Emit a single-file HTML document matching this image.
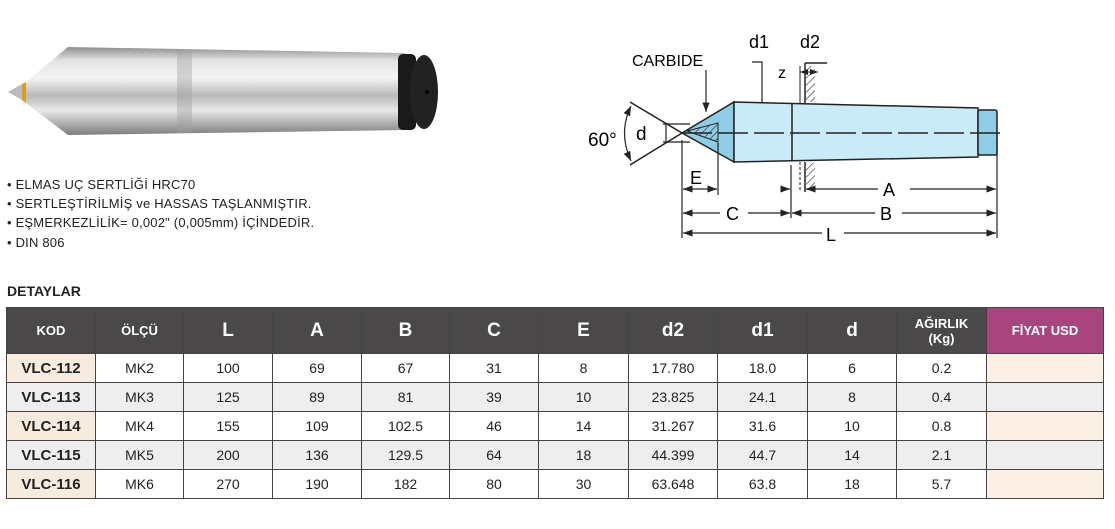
<!DOCTYPE html>
<html><head><meta charset="utf-8"><style>
body{margin:0;background:#fff;width:1115px;height:529px;position:relative;overflow:hidden;font-family:"Liberation Sans Narrow","Liberation Sans",sans-serif;}
.bul{position:absolute;left:7px;font-size:13px;color:#222;letter-spacing:0.2px}
table{position:absolute;left:6px;top:307px;border-collapse:collapse;table-layout:fixed;font-family:"Liberation Sans Narrow","Liberation Sans",sans-serif}
td,th{border:1px solid #444;text-align:center;padding:0;font-size:14px;color:#222}
th{background:#4a4849;color:#fff;height:45px;font-weight:bold;font-size:19px}
th.s{font-size:13px}
td{height:28px}
tr.g td{background:#eee}
td.k{background:#f6ebdc;font-weight:bold;font-size:15px}
td.f{background:#fbf0e3}
th.p{background:#a8457f;font-size:13px}
</style></head><body>
<svg width="460" height="160" style="position:absolute;left:0;top:20px" viewBox="0 0 460 160">
<defs>
<linearGradient id="m" x1="0" y1="0" x2="0" y2="1">
<stop offset="0" stop-color="#8e8e8e"/><stop offset="0.15" stop-color="#e2e2e2"/><stop offset="0.35" stop-color="#f4f4f4"/><stop offset="0.55" stop-color="#b8b8b8"/><stop offset="0.72" stop-color="#e8e8e8"/><stop offset="1" stop-color="#7c7c7c"/></linearGradient>
</defs>
<polygon points="8,72 22,64 22,80" fill="#bbb"/>
<polygon points="22,64 26,62 26,83 22,80" fill="#d4a020"/>
<polygon points="26,62 68,27 405,33 405,110 68,115 26,83" fill="url(#m)"/>
<rect x="177" y="29" width="15" height="84" fill="#a0a0a0" opacity="0.4"/>
<rect x="398" y="34" width="18" height="76" rx="5" fill="#1a1a1a"/>
<ellipse cx="424" cy="72" rx="14" ry="37" fill="#222"/>
<circle cx="427" cy="72" r="2" fill="#000"/>
</svg>
<div class="bul" style="top:177px">• ELMAS UÇ SERTLİĞİ HRC70</div>
<div class="bul" style="top:196px">• SERTLEŞTİRİLMİŞ ve HASSAS TAŞLANMIŞTIR.</div>
<div class="bul" style="top:215px">• EŞMERKEZLİLİK= 0,002" (0,005mm) İÇİNDEDİR.</div>
<div class="bul" style="top:235px">• DIN 806</div>
<div style="position:absolute;left:7px;top:283px;font-weight:bold;font-size:14px;color:#222">DETAYLAR</div>

<svg width="1115" height="260" style="position:absolute;left:0;top:0" font-family="Liberation Sans,sans-serif">
<defs><pattern id="h" width="5" height="5" patternUnits="userSpaceOnUse" patternTransform="rotate(45)"><line x1="0" y1="0" x2="0" y2="5" stroke="#222" stroke-width="1.2"/></pattern>
<marker id="a" markerWidth="8" markerHeight="6" refX="8" refY="3" orient="auto-start-reverse"><path d="M0,0 L8,3 L0,6z" fill="#222"/></marker></defs>
<polygon points="682,133 734,102 734,162" fill="#8fcde6" stroke="#222" stroke-width="1.5"/>
<polygon points="734,102 978,108 978,157 734,162" fill="#c9ebf8" stroke="#222" stroke-width="1.5"/>
<rect x="978" y="110" width="19" height="45" rx="2" fill="#8fcde6" stroke="#222" stroke-width="1.5"/>
<polygon points="687,131 718,123 718,142" fill="url(#h)" stroke="#222" stroke-width="1"/>
<line x1="792" y1="103" x2="792" y2="161" stroke="#222" stroke-width="1.5"/>
<line x1="682" y1="133" x2="1002" y2="133" stroke="#222" stroke-width="1.5" stroke-dasharray="30,6"/>
<polyline points="630,102 682,133 630,165" fill="none" stroke="#222" stroke-width="1.5"/>
<path d="M631,106 Q618,133 631,161" fill="none" stroke="#222" stroke-width="1.2" marker-start="url(#a)" marker-end="url(#a)"/>
<text x="588" y="146" font-size="19">60°</text>
<line x1="663" y1="124" x2="690" y2="124" stroke="#222" stroke-width="1.2"/>
<line x1="663" y1="142" x2="690" y2="142" stroke="#222" stroke-width="1.2"/>
<line x1="666" y1="124" x2="666" y2="142" stroke="#222" stroke-width="1.2"/>
<text x="636" y="140" font-size="19">d</text>
<text x="632" y="66" font-size="16">CARBIDE</text>
<line x1="706" y1="70" x2="706" y2="112" stroke="#222" stroke-width="1.2" marker-end="url(#a)"/>
<text x="749" y="48" font-size="18">d1</text>
<polyline points="752,62 762,62 762,102" fill="none" stroke="#222" stroke-width="1.2"/>
<text x="800" y="48" font-size="18">d2</text>
<text x="778" y="78" font-size="16">z</text>
<line x1="800" y1="72" x2="810" y2="72" stroke="#222" stroke-width="1" marker-start="url(#a)"/>
<line x1="805" y1="72" x2="818" y2="72" stroke="#222" stroke-width="1" marker-end="url(#a)"/>
<line x1="800" y1="66" x2="800" y2="103" stroke="#222" stroke-width="1"/>
<line x1="805" y1="63" x2="805" y2="103" stroke="#222" stroke-width="1.5"/>
<line x1="805" y1="63" x2="827" y2="63" stroke="#222" stroke-width="1.5"/>
<rect x="806" y="66" width="9" height="36" fill="url(#h)"/>
<line x1="805" y1="162" x2="805" y2="192" stroke="#222" stroke-width="1.5"/>
<line x1="800" y1="162" x2="800" y2="190" stroke="#222" stroke-width="1" stroke-dasharray="3,2"/>
<rect x="806" y="163" width="9" height="27" fill="url(#h)"/>
<g stroke="#222" stroke-width="1.2" fill="none">
<line x1="682" y1="140" x2="682" y2="238"/>
<line x1="997" y1="138" x2="997" y2="238"/>
<line x1="718" y1="143" x2="718" y2="195"/>
<line x1="791" y1="165" x2="791" y2="218"/>
<line x1="683" y1="189" x2="717" y2="189" marker-start="url(#a)" marker-end="url(#a)"/>
<line x1="806" y1="189" x2="878" y2="189" marker-start="url(#a)"/>
<line x1="910" y1="189" x2="996" y2="189" marker-end="url(#a)"/>
<line x1="781" y1="189" x2="790" y2="189" marker-end="url(#a)"/>
<line x1="683" y1="213" x2="720" y2="213" marker-start="url(#a)"/>
<line x1="748" y1="213" x2="790" y2="213" marker-end="url(#a)"/>
<line x1="792" y1="213" x2="875" y2="213" marker-start="url(#a)"/>
<line x1="902" y1="213" x2="996" y2="213" marker-end="url(#a)"/>
<line x1="683" y1="233" x2="822" y2="233" marker-start="url(#a)"/>
<line x1="844" y1="233" x2="996" y2="233" marker-end="url(#a)"/>
</g>
<text x="690" y="184" font-size="18">E</text>
<text x="726" y="220" font-size="18">C</text>
<text x="883" y="196" font-size="18">A</text>
<text x="880" y="220" font-size="18">B</text>
<text x="826" y="241" font-size="18">L</text>
</svg>

<table>
<colgroup><col style="width:89px"><col style="width:88px"><col style="width:89px"><col style="width:89px"><col style="width:88px"><col style="width:89px"><col style="width:90px"><col style="width:89px"><col style="width:90px"><col style="width:89px"><col style="width:90px"><col style="width:117px"></colgroup>
<tr><th class="s">KOD</th><th class="s">ÖLÇÜ</th><th>L</th><th>A</th><th>B</th><th>C</th><th>E</th><th>d2</th><th>d1</th><th>d</th><th class="s">AĞIRLIK<br>(Kg)</th><th class="p">FİYAT USD</th></tr>
<tr><td class="k">VLC-112</td><td>MK2</td><td>100</td><td>69</td><td>67</td><td>31</td><td>8</td><td>17.780</td><td>18.0</td><td>6</td><td>0.2</td><td class="f"></td></tr>
<tr class="g"><td class="k">VLC-113</td><td>MK3</td><td>125</td><td>89</td><td>81</td><td>39</td><td>10</td><td>23.825</td><td>24.1</td><td>8</td><td>0.4</td><td class="f"></td></tr>
<tr><td class="k">VLC-114</td><td>MK4</td><td>155</td><td>109</td><td>102.5</td><td>46</td><td>14</td><td>31.267</td><td>31.6</td><td>10</td><td>0.8</td><td class="f"></td></tr>
<tr class="g"><td class="k">VLC-115</td><td>MK5</td><td>200</td><td>136</td><td>129.5</td><td>64</td><td>18</td><td>44.399</td><td>44.7</td><td>14</td><td>2.1</td><td class="f"></td></tr>
<tr><td class="k">VLC-116</td><td>MK6</td><td>270</td><td>190</td><td>182</td><td>80</td><td>30</td><td>63.648</td><td>63.8</td><td>18</td><td>5.7</td><td class="f"></td></tr>
</table>
</body></html>
